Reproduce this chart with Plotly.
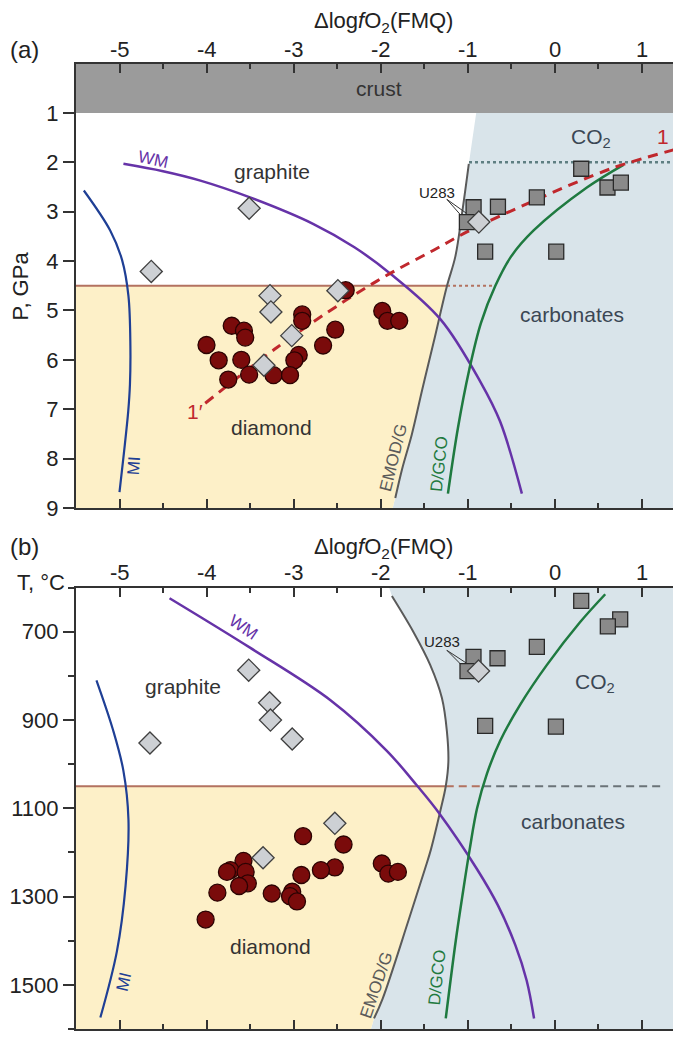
import numpy as np
import plotly.graph_objects as go

FONT = "Liberation Sans, Arial, Helvetica, sans-serif"
TXT = "#333333"

# page geometry (the html body adds an 8 px margin at the left and top)
OFF = 8
W, H = 681 - OFF, 1044 - OFF


def PX(xp):
    return (xp - OFF) / W


def PY(yp):
    return 1 - (yp - OFF) / H


# ---------------- axes / ticks ----------------
x_tickvals = [-5, -4, -3, -2, -1, 0, 1]
x_ticktext = ["-5", "-4", "-3", "-2", "-1", "0", "1"]
X_RANGE = [-5.5, 1.454]
p_tickvals = [1, 2, 3, 4, 5, 6, 7, 8, 9]
P_RANGE = [9, 0]
t_tickvals = [700, 900, 1100, 1300, 1500]
T_RANGE = [1600, 600]
depth_ticks_p = [1.47, 2.93, 4.39, 5.87, 7.35, 8.81]
right_ticks_t = [700, 800, 900, 1000, 1100, 1200, 1300, 1400, 1500]

# ---------------- panel (a) data : dlogfO2 vs P ----------------
a_circle_x = [-2.40, -1.98, -1.92, -1.785, -2.90, -2.90, -3.71, -3.57, -3.555, -2.52,
              -2.66, -4.00, -3.86, -3.60, -2.94, -2.99, -3.75, -3.51, -3.23, -3.04]
a_circle_p = [4.59, 5.01, 5.21, 5.21, 5.08, 5.21, 5.31, 5.41, 5.55, 5.39,
              5.71, 5.70, 6.01, 6.00, 5.90, 6.01, 6.40, 6.30, 6.31, 6.31]
a_square_x = [0.307, 0.609, 0.763, -0.203, -0.65, -0.93, -1.007, -0.797, 0.02]
a_square_p = [2.13, 2.51, 2.41, 2.71, 2.90, 2.91, 3.21, 3.81, 3.81]
a_diamond_x = [-3.51, -4.635, -3.27, -3.26, -3.02, -3.34, -2.49, -0.87]
a_diamond_p = [2.93, 4.21, 4.70, 5.03, 5.51, 6.11, 4.60, 3.21]

emod_a_x = [-0.90, -0.985, -1.06, -1.14, -1.237, -1.39, -1.52, -1.64, -1.75, -1.83, -1.86]
emod_a_p = [1.0, 2.03, 3.0, 3.91, 4.51, 5.65, 6.6, 7.51, 8.2, 8.8, 9.0]
wm_a_x = [-4.955, -4.5, -4.07, -3.5, -2.77, -2.3, -1.89, -1.31, -0.85, -0.625, -0.375]
wm_a_p = [2.03, 2.18, 2.37, 2.71, 3.25, 3.72, 4.25, 5.18, 6.45, 7.25, 8.71]
mi_a_x = [-5.41, -5.107, -4.97, -4.897, -4.875, -4.88, -4.9, -4.95, -5.0]
mi_a_p = [2.57, 3.38, 3.98, 4.71, 5.71, 6.5, 7.05, 7.9, 8.68]
dgco_a_x = [0.793, 0.372, -0.24, -0.50, -0.68, -0.845, -0.98, -1.11, -1.225]
dgco_a_p = [2.05, 2.51, 3.38, 3.91, 4.5, 5.25, 6.2, 7.38, 8.71]
line1_x = [-4.015, -3.19, -2.386, -1.889, -1.39, -1.007, -0.24, 0.678, 1.47]
line1_p = [6.88, 5.75, 4.78, 4.25, 3.78, 3.41, 2.78, 2.11, 1.70]
crust_p = 1.0
gd_a_p = 4.5            # graphite/diamond transition
gd_a_dot_end = -0.675
co2_a_p = 2.0
u283_a_label = (-1.237, 2.75)
u283_a_targets_x = [-1.007, -0.87]
u283_a_targets_p = [3.21, 3.21]

# ---------------- panel (b) data : dlogfO2 vs T ----------------
b_circle_x = [-2.89, -2.425, -1.985, -1.91, -1.8, -2.525, -2.685, -2.91, -3.575, -3.725,
              -3.765, -3.55, -3.525, -3.625, -3.875, -3.25, -3.015, -3.04, -2.96, -4.01]
b_circle_t = [1163, 1182, 1225, 1248, 1244, 1234, 1240, 1251, 1219, 1240,
              1244, 1244, 1270, 1276, 1291, 1293, 1289, 1299, 1311, 1352]
b_square_x = [0.307, 0.755, 0.613, -0.203, -0.655, -0.931, -1.0, -0.797, 0.016]
b_square_t = [630, 672, 688, 734, 760, 757, 789, 913, 915]
b_diamond_x = [-3.515, -3.275, -3.265, -3.015, -4.65, -2.525, -3.35, -0.873]
b_diamond_t = [787, 861, 900, 943, 952, 1134, 1212, 789]

emod_b_x = [-1.9, -1.869, -1.62, -1.429, -1.294, -1.237, -1.22, -1.25, -1.31, -1.42,
            -1.49, -1.675, -1.975, -2.075, -2.11]
emod_b_t = [600, 619, 701, 775, 850, 925, 995, 1050, 1104, 1193,
            1238, 1352, 1531, 1576, 1600]
wm_b_x = [-4.425, -3.5, -2.575, -1.93, -1.574, -1.33, -0.89, -0.65, -0.45, -0.32, -0.235]
wm_b_t = [624, 736, 855, 969, 1050, 1110, 1238, 1320, 1410, 1490, 1576]
mi_b_x = [-5.265, -5.075, -4.956, -4.897, -4.93, -5.03, -5.22]
mi_b_t = [810, 922, 1014, 1126, 1275, 1424, 1574]
dgco_b_x = [0.583, 0.295, -0.087, -0.394, -0.624, -0.777, -0.89, -0.975, -1.06, -1.135, -1.25]
dgco_b_t = [615, 678, 775, 865, 947, 1022, 1100, 1193, 1300, 1400, 1576]
gd_b_t = 1050
gd_b_brown_end = -0.82
gd_b_gray_end = 1.25
u283_b_label = (-1.237, 742)
u283_b_targets_x = [-1.0, -0.873]
u283_b_targets_t = [789, 789]

# ---------------- styles ----------------
C_BLUE_FILL = "#d9e4ea"
C_YEL_FILL = "#fdf0c8"
C_CRUST = "#9b9b9b"
C_BROWN = "#b37260"
C_EMOD = "#5a5a5a"
C_WM = "#6633a8"
C_MI = "#1f3f95"
C_DGCO = "#1f7a40"
C_RED = "#c0282d"
C_DOT = "#5f7f82"

fig = go.Figure()


def add_line(x, y, color, width, xa, ya, dash=None):
    fig.add_trace(go.Scatter(x=x, y=y, mode="lines", xaxis=xa, yaxis=ya,
                             line=dict(color=color, width=width, dash=dash, shape="spline",
                                       smoothing=1.0),
                             hoverinfo="skip", showlegend=False))


def add_fill(x, y, color, xa, ya):
    fig.add_trace(go.Scatter(x=x, y=y, mode="lines", fill="toself", fillcolor=color,
                             line=dict(width=0, color=color), xaxis=xa, yaxis=ya,
                             hoverinfo="skip", showlegend=False))


def add_markers(x, y, symbol, size, fill, edge, xa, ya):
    fig.add_trace(go.Scatter(x=x, y=y, mode="markers", xaxis=xa, yaxis=ya,
                             marker=dict(symbol=symbol, size=size, color=fill,
                                         line=dict(color=edge, width=1.3)),
                             hoverinfo="skip", showlegend=False))


def add_hline(x0, x1, y, color, width, xa, ya, dash=None):
    fig.add_trace(go.Scatter(x=[x0, x1], y=[y, y], mode="lines", xaxis=xa, yaxis=ya,
                             line=dict(color=color, width=width, dash=dash),
                             hoverinfo="skip", showlegend=False))


X_FAR_L, X_FAR_R = -7, 3

# ===== panel a =====
xa, ya = "x", "y"
add_fill(list(emod_a_x) + [X_FAR_R, X_FAR_R], list(emod_a_p) + [emod_a_p[-1], emod_a_p[0]],
         C_BLUE_FILL, xa, ya)
xe_a = float(np.interp(gd_a_p, emod_a_p, emod_a_x))
sel = [(x, p) for x, p in zip(emod_a_x, emod_a_p) if p > gd_a_p]
add_fill([X_FAR_L, xe_a] + [s[0] for s in sel] + [X_FAR_L],
         [gd_a_p, gd_a_p] + [s[1] for s in sel] + [sel[-1][1]], C_YEL_FILL, xa, ya)
add_hline(X_FAR_L, xe_a, gd_a_p, C_BROWN, 2, xa, ya)
add_hline(xe_a, gd_a_dot_end, gd_a_p, C_BROWN, 2, xa, ya, dash="dot")
xc_a = float(np.interp(co2_a_p, emod_a_p, emod_a_x))
add_hline(xc_a, X_FAR_R, co2_a_p, C_DOT, 2.5, xa, ya, dash="dot")
add_line(emod_a_x[1:-1], emod_a_p[1:-1], C_EMOD, 2, xa, ya)
add_line(mi_a_x, mi_a_p, C_MI, 2.2, xa, ya)
add_line(wm_a_x, wm_a_p, C_WM, 2.5, xa, ya)
add_line(dgco_a_x, dgco_a_p, C_DGCO, 2.5, xa, ya)
add_line(line1_x, line1_p, C_RED, 3, xa, ya, dash="10px,7px")
for tx, tp in zip(u283_a_targets_x, u283_a_targets_p):
    fig.add_trace(go.Scatter(x=[u283_a_label[0], tx], y=[u283_a_label[1], tp], mode="lines",
                             xaxis=xa, yaxis=ya, line=dict(color="#333", width=1),
                             hoverinfo="skip", showlegend=False))
add_markers(a_circle_x, a_circle_p, "circle", 17, "#7a0b0b", "#2b0303", xa, ya)
add_markers(a_square_x, a_square_p, "square", 15, "#8a8a8a", "#2a2a2a", xa, ya)
add_markers(a_diamond_x, a_diamond_p, "diamond", 17, "#cdd0d4", "#404040", xa, ya)

# ===== panel b =====
xa, ya = "x2", "y2"
add_fill(list(emod_b_x) + [X_FAR_R, X_FAR_R], list(emod_b_t) + [emod_b_t[-1], emod_b_t[0]],
         C_BLUE_FILL, xa, ya)
xe_b = float(np.interp(gd_b_t, emod_b_t, emod_b_x))
selb = [(x, t) for x, t in zip(emod_b_x, emod_b_t) if t > gd_b_t]
add_fill([X_FAR_L, xe_b] + [s[0] for s in selb] + [X_FAR_L],
         [gd_b_t, gd_b_t] + [s[1] for s in selb] + [selb[-1][1]], C_YEL_FILL, xa, ya)
add_hline(X_FAR_L, xe_b, gd_b_t, C_BROWN, 2, xa, ya)
add_hline(xe_b, gd_b_brown_end, gd_b_t, C_BROWN, 2, xa, ya, dash="8px,5px")
add_hline(gd_b_brown_end, gd_b_gray_end, gd_b_t, "#6b7378", 2, xa, ya, dash="8px,5px")
add_line(emod_b_x[1:-1], emod_b_t[1:-1], C_EMOD, 2, xa, ya)
add_line(mi_b_x, mi_b_t, C_MI, 2.2, xa, ya)
add_line(wm_b_x, wm_b_t, C_WM, 2.5, xa, ya)
add_line(dgco_b_x, dgco_b_t, C_DGCO, 2.5, xa, ya)
for tx, tt in zip(u283_b_targets_x, u283_b_targets_t):
    fig.add_trace(go.Scatter(x=[u283_b_label[0], tx], y=[u283_b_label[1], tt], mode="lines",
                             xaxis=xa, yaxis=ya, line=dict(color="#333", width=1),
                             hoverinfo="skip", showlegend=False))
add_markers(b_circle_x, b_circle_t, "circle", 17, "#7a0b0b", "#2b0303", xa, ya)
add_markers(b_square_x, b_square_t, "square", 15, "#8a8a8a", "#2a2a2a", xa, ya)
add_markers(b_diamond_x, b_diamond_t, "diamond", 17, "#cdd0d4", "#404040", xa, ya)

# ---------------- axes ----------------
XDOM = [PX(76), 1.0]
YDOM_A = [PY(514.3), PY(64.3)]
YDOM_B = [PY(1042), PY(595)]

xcommon = dict(range=X_RANGE, domain=XDOM, side="top", tickmode="array",
               tickvals=x_tickvals, showticklabels=False, ticks="inside", ticklen=9,
               tickwidth=1.6, tickcolor="#333", showline=True, linewidth=2.2, linecolor="#333",
               mirror="ticks", showgrid=False, zeroline=False,
               minor=dict(dtick=0.5, tick0=0, ticks="inside", ticklen=5, tickwidth=1.6,
                          tickcolor="#333", showgrid=False),
               fixedrange=True)

fig.update_layout(
    width=W, height=H,
    margin=dict(l=0, r=0, t=0, b=0),
    paper_bgcolor="white", plot_bgcolor="white",
    font=dict(family=FONT, color=TXT),
    showlegend=False,
    xaxis=dict(anchor="y", **xcommon),
    xaxis2=dict(anchor="y2", **xcommon),
    yaxis=dict(domain=YDOM_A, range=P_RANGE, anchor="x", tickmode="array", tickvals=p_tickvals,
               ticks="outside", ticklen=11, tickwidth=1.6, tickcolor="#333", showline=True,
               linewidth=2.2, linecolor="#333", showgrid=False, zeroline=False,
               tickfont=dict(family=FONT, size=22, color="#222"), fixedrange=True),
    yaxis2=dict(domain=YDOM_B, range=T_RANGE, anchor="x2", tickmode="array", tickvals=t_tickvals,
                ticks="outside", ticklen=11, tickwidth=1.6, tickcolor="#333", showline=True,
                linewidth=2.2, linecolor="#333", showgrid=False, zeroline=False,
                minor=dict(dtick=100, tick0=600, ticks="outside", ticklen=6, tickwidth=1.6,
                           tickcolor="#333", showgrid=False),
                tickfont=dict(family=FONT, size=22, color="#222"), fixedrange=True),
)

# crust band
fig.add_shape(type="rect", xref="x domain", yref="y", x0=0, x1=1, y0=P_RANGE[1], y1=crust_p,
              fillcolor=C_CRUST, line=dict(width=0), layer="below")

# short inward ticks along the (cropped) right-hand axis
RT0 = 1 - 8 / (W * (XDOM[1] - XDOM[0]))
for v in depth_ticks_p:
    fig.add_shape(type="line", xref="x domain", yref="y", x0=RT0, x1=1, y0=v, y1=v,
                  line=dict(color="#333", width=2))
for v in right_ticks_t:
    fig.add_shape(type="line", xref="x2 domain", yref="y2", x0=RT0, x1=1, y0=v, y1=v,
                  line=dict(color="#333", width=2))


# ---------------- text ----------------
def ann(text, x, y, xr, yr, size=21, color=TXT, angle=0):
    fig.add_annotation(text=text, x=x, y=y, xref=xr, yref=yr, showarrow=False,
                       xanchor="center", yanchor="middle",
                       font=dict(family=FONT, size=size, color=color), textangle=angle)


# tick labels of the top dlogfO2 axes
for v, t in zip(x_tickvals, x_ticktext):
    ann(t, v, PY(50), "x", "paper", size=22, color="#222")
    ann(t, v, PY(580), "x2", "paper", size=22, color="#222")

title = "Δlog<i>f</i>O<sub>2</sub>(FMQ)"
ann(title, PX(383), PY(22), "paper", "paper", size=22, color="#222")
ann(title, PX(383), PY(555), "paper", "paper", size=22, color="#222")
ann("(a)", PX(24), PY(50), "paper", "paper", size=24, color="#222")
ann("(b)", PX(24), PY(553), "paper", "paper", size=24, color="#222")
ann("P, GPa", PX(20), PY(290), "paper", "paper", size=22, color="#222", angle=-90)
ann("T, °C", PX(41), PY(590), "paper", "paper", size=22, color="#222")

# panel a labels
ann("crust", -2.02, 0.51, "x", "y", size=21)
ann("graphite", -3.25, 2.18, "x", "y", size=21)
ann("CO<sub>2</sub>", 0.42, 1.51, "x", "y", size=21, color="#3b4754")
ann("carbonates", 0.2, 5.08, "x", "y", size=21, color="#3b4754")
ann("diamond", -3.25, 7.38, "x", "y", size=21)
ann("1", 1.25, 1.47, "x", "y", size=21, color=C_RED)
ann("1′", -4.13, 7.05, "x", "y", size=21, color=C_RED)
ann("WM", -4.62, 1.95, "x", "y", size=17, color=C_WM, angle=12)
ann("MI", -4.83, 8.15, "x", "y", size=17, color=C_MI, angle=-86)
ann("EMOD/G", -1.85, 7.98, "x", "y", size=17, color=C_EMOD, angle=-76)
ann("D/GCO", -1.33, 8.11, "x", "y", size=17, color=C_DGCO, angle=-84)
ann("U283", -1.35, 2.61, "x", "y", size=15, color="#222")

# panel b labels
ann("graphite", -4.275, 825, "x2", "y2", size=21)
ann("CO<sub>2</sub>", 0.46, 816, "x2", "y2", size=21, color="#3b4754")
ann("carbonates", 0.21, 1130, "x2", "y2", size=21, color="#3b4754")
ann("diamond", -3.265, 1412, "x2", "y2", size=21)
ann("WM", -3.575, 691, "x2", "y2", size=17, color=C_WM, angle=34)
ann("MI", -4.95, 1492, "x2", "y2", size=17, color=C_MI, angle=-77)
ann("EMOD/G", -2.05, 1501, "x2", "y2", size=17, color=C_EMOD, angle=-71)
ann("D/GCO", -1.35, 1483, "x2", "y2", size=17, color=C_DGCO, angle=-84)
ann("U283", -1.294, 722, "x2", "y2", size=15, color="#222")

fig.write_html("out.html")
